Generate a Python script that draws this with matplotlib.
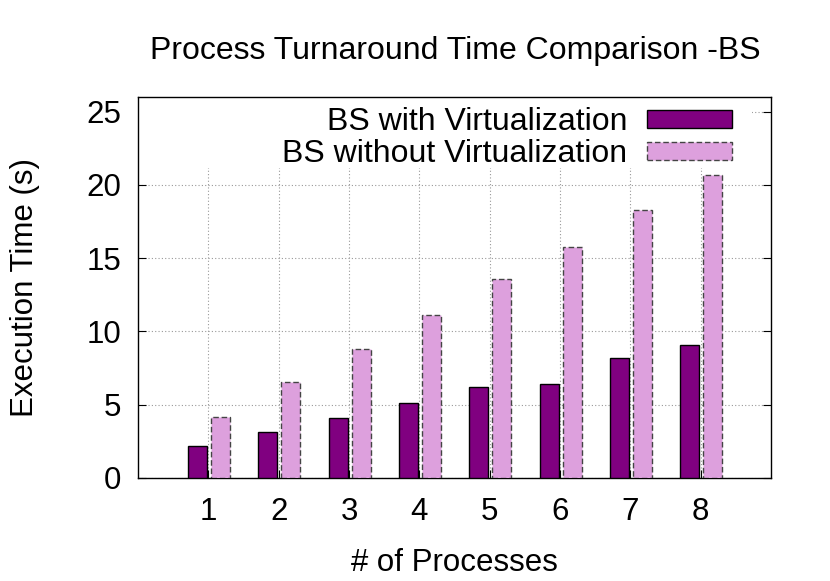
import numpy as np
import matplotlib
matplotlib.use("Agg")
import matplotlib.pyplot as plt
from matplotlib.patches import Rectangle

plt.rcParams["font.family"] = ["Liberation Sans", "DejaVu Sans"]

# Data
processes = [1, 2, 3, 4, 5, 6, 7, 8]
with_virt = [2.2, 3.15, 4.1, 5.15, 6.2, 6.4, 8.2, 9.1]
without_virt = [4.18, 6.55, 8.8, 11.15, 13.6, 15.75, 18.3, 20.7]

PURPLE = "#800080"
PLUM = "#DDA0DD"

fig = plt.figure(figsize=(8.3, 5.81), dpi=100)
ax = fig.add_axes([0.1663, 0.1773, 0.7626, 0.6557])

x = np.array(processes, dtype=float)
width = 0.27
ax.bar(x - 0.155, with_virt, width, color=PURPLE, edgecolor="black",
       linewidth=1.0, label="BS with Virtualization", zorder=3)
ax.bar(x + 0.175, without_virt, width, color=PLUM, edgecolor="#444444",
       linewidth=1.0, linestyle=(0, (4, 2)),
       label="BS without Virtualization", zorder=3)

ax.set_xlim(0, 9)
ax.set_ylim(0, 26)
ax.set_xticks(processes)
ax.set_yticks([0, 5, 10, 15, 20, 25])
ax.set_xticks(range(0, 10), minor=True)
ax.tick_params(axis="both", which="major", direction="in", length=6,
               labelsize=22.5, top=True, right=True)
ax.tick_params(axis="x", which="major", top=False, pad=14)
ax.tick_params(axis="y", which="major", pad=12)
ax.tick_params(axis="x", which="minor", direction="in", length=6,
               top=True, bottom=False)
ax.set_axisbelow(True)
ax.grid(True, color="#999999", linestyle=(0, (1, 2)), linewidth=0.8)
for s in ax.spines.values():
    s.set_linewidth(1.0)

# opaque key area hides the grid behind it
ax.add_patch(Rectangle((0, 0.8136), 0.970, 0.19, transform=ax.transAxes,
                       facecolor="white", edgecolor="none", zorder=1))

ax.set_xlabel("# of Processes", fontsize=22.5, va="top")
ax.xaxis.set_label_coords(0.5, -0.184)
ax.set_ylabel("Execution Time (s)", fontsize=22.5)
ax.yaxis.set_label_coords(-0.155, 0.5)

fig.text(0.548, 0.8985, "Process Turnaround Time Comparison -BS",
         ha="center", va="baseline", fontsize=23)

leg = ax.legend(loc="upper right", bbox_to_anchor=(0.949, 0.99),
                fontsize=23, frameon=False, markerfirst=False,
                handlelength=2.66, handleheight=0.5, handletextpad=0.63,
                labelspacing=0.06, borderpad=0.2, borderaxespad=0.0)
leg._legend_box.align = "right"
leg.set_zorder(5)

fig.savefig("out.png", dpi=100)
